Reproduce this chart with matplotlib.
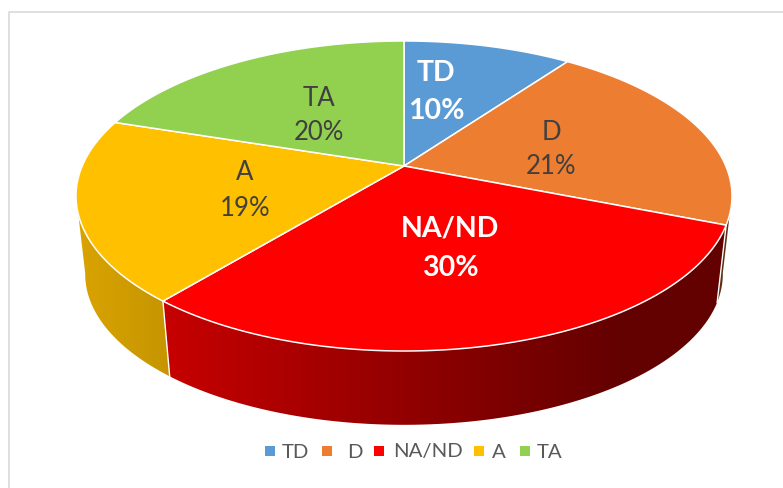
#!/usr/bin/env python
import numpy as np
import matplotlib
matplotlib.use("Agg")
import matplotlib.pyplot as plt
from matplotlib.colors import to_rgb

labels = ["TD", "D", "NA/ND", "A", "TA"]
values = [10, 21, 30, 19, 20]
colors = ["#5B9BD5", "#ED7D31", "#FF0000", "#FFC000", "#92D050"]

plt.rcParams["font.family"] = ["Lato", "DejaVu Sans"]

fig = plt.figure(figsize=(7.83, 4.89), dpi=100, facecolor="white")
ax = fig.add_axes([0, 0, 1, 1])


def rim(frac, cx=404., cy=167., scale=1.):
  # perspective view of the pie circle, frac runs clockwise from 12 o'clock
  t = 2*np.pi*np.asarray(frac)
  u, v = np.sin(t), np.cos(t)
  d = 1 + 0.1935*v
  return cx + scale*321.8*u/d, cy - scale*149.2*v/d


def wall_shade(x):
  return np.interp(x, [80, 620], [0.85, 0.39])


edges = np.cumsum([0] + values)/np.sum(values)

# side walls, back to front, each cut at the silhouette of the drum
wall_ranges = {1: (0.28, edges[2]), 3: (edges[3], 0.72), 2: (edges[2], edges[3])}
for i in [1, 3, 2]:
  f0, f1 = wall_ranges[i]
  frac = np.linspace(f0, f1, 150)
  xt, yt = rim(frac)
  xb, yb = rim(frac, cy=246., scale=0.972)
  px = np.concatenate([xt, xb[::-1]])
  py = np.concatenate([yt, yb[::-1]])
  poly = ax.fill(px, py, color="none", lw=0)[0]
  xs = np.arange(0, 784)
  rgb = np.array(to_rgb(colors[i]))
  grad = (wall_shade(xs)[:, None]*rgb)[None, :, :]
  im = ax.imshow(grad, extent=(0, 783, 489, 0), aspect="auto", zorder=1, interpolation="bilinear")
  im.set_clip_path(poly)

# white seams between the walls
for f in [edges[2], edges[3]]:
  xt, yt = rim(f)
  xb, yb = rim(f, cy=246., scale=0.972)
  ax.plot([xt, xb], [yt, yb], color="white", lw=1.0, zorder=2)

# top face
for i in range(len(values)):
  frac = np.linspace(edges[i], edges[i+1], 150)
  xt, yt = rim(frac)
  ax.fill(np.r_[404., xt], np.r_[167., yt], facecolor=colors[i], edgecolor="white", lw=1.1, joinstyle="round", zorder=3)

# slice labels
pcts = ["%d%%" % v for v in values]
label_pos = [(436, 73, 111), (551, 133, 167), (450, 229, 268), (245, 173, 208), (319, 98, 132)]
for lab, pct, pos in zip(labels, pcts, label_pos):
  bold = lab in ("TD", "NA/ND")
  style = dict(ha="center", va="center", zorder=4,
               color="white" if bold else "#404040",
               fontweight="bold" if bold else "normal",
               fontsize=20.5 if bold else 18.5)
  ax.text(pos[0], pos[1], lab, **style)
  ax.text(pos[0], pos[2], pct, **style)

# legend
marker_x = [270, 327, 379, 479, 525]
text_x = [282, 347, 393, 492, 537]
for lab, col, mx, tx in zip(labels, colors, marker_x, text_x):
  ax.scatter([mx], [452], marker="s", s=42, color=col, lw=0, zorder=4)
  ax.text(tx, 452, lab, ha="left", va="center", color="#595959", fontsize=14.7, zorder=4)

# chart frame
ax.plot([9, 9, 783], [489, 12.5, 12.5], color="#D9D9D9", lw=1.2, zorder=0)

ax.set_xlim(0, 783)
ax.set_ylim(489, 0)
ax.axis("off")
fig.savefig("out.png", dpi=100, facecolor="white")
